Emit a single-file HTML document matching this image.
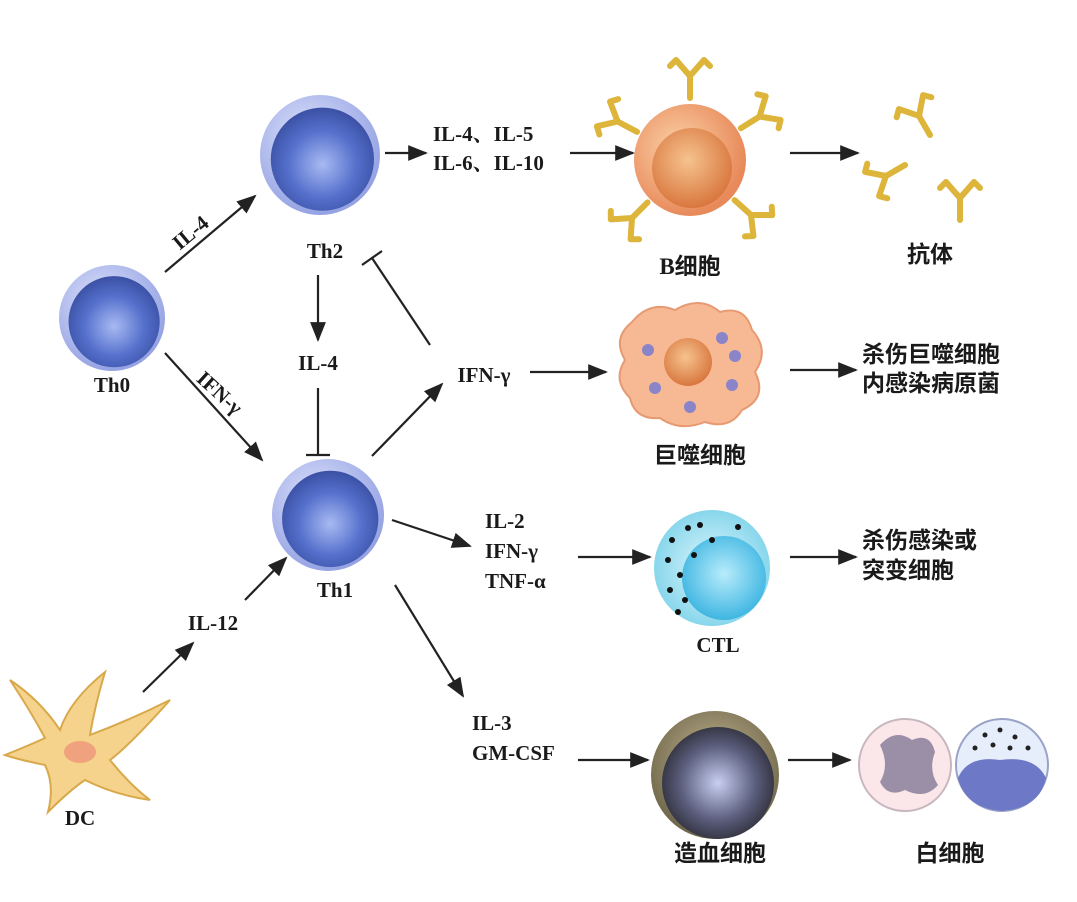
<!DOCTYPE html>
<html><head><meta charset="utf-8"><style>
html,body{margin:0;padding:0;background:#fff;}
svg{display:block;}
text{font-family:"Liberation Serif","Noto Serif CJK SC",serif;font-weight:bold;fill:#1a1a1a;}
.cn{font-family:"Liberation Serif","Noto Sans CJK SC",sans-serif;font-weight:bold;}
</style></head><body>
<svg width="1077" height="902" viewBox="0 0 1077 902">
<defs>
<marker id="ah" viewBox="0 0 10 10" refX="9" refY="5" markerWidth="9" markerHeight="9" orient="auto"><path d="M0,1 L10,5 L0,9 z" fill="#222"/></marker>
<radialGradient id="blue" cx="50%" cy="55%" r="55%"><stop offset="0" stop-color="#a8baf2"/><stop offset="0.6" stop-color="#5570cc"/><stop offset="1" stop-color="#3a50a4"/></radialGradient>
<radialGradient id="blueOut" cx="40%" cy="35%" r="65%"><stop offset="0" stop-color="#dde2fb"/><stop offset="1" stop-color="#95a3e3"/></radialGradient>
<radialGradient id="orange" cx="40%" cy="40%" r="60%"><stop offset="0" stop-color="#fbd3a8"/><stop offset="1" stop-color="#e8895a"/></radialGradient>
<radialGradient id="orangeN" cx="45%" cy="40%" r="60%"><stop offset="0" stop-color="#f6c38e"/><stop offset="1" stop-color="#d9773f"/></radialGradient>
<radialGradient id="cyan" cx="50%" cy="50%" r="55%"><stop offset="0" stop-color="#e2f8fd"/><stop offset="1" stop-color="#7fd3ea"/></radialGradient>
<radialGradient id="cyanN" cx="50%" cy="45%" r="55%"><stop offset="0" stop-color="#b8ecfb"/><stop offset="1" stop-color="#3fb6e2"/></radialGradient>
<radialGradient id="dark" cx="50%" cy="50%" r="55%"><stop offset="0" stop-color="#c8cff0"/><stop offset="0.6" stop-color="#5c5f7e"/><stop offset="1" stop-color="#2c2c36"/></radialGradient>
<radialGradient id="darkOut" cx="50%" cy="40%" r="60%"><stop offset="0" stop-color="#c2b893"/><stop offset="1" stop-color="#6e6448"/></radialGradient>
<g id="tcell"><circle r="1" fill="url(#blueOut)"/><circle cx="0.04" cy="0.07" r="0.86" fill="url(#blue)"/></g>
<g id="ab"><path d="M0,0 L0,-22 M0,-22 L-14,-38 M0,-22 L14,-38 M-14,-38 L-20,-32 M14,-38 L20,-32" stroke="#dcb53a" stroke-width="6" fill="none" stroke-linecap="round"/></g>
</defs>

<g><use href="#tcell" transform="translate(320,155) scale(60)"/></g>
<g><use href="#tcell" transform="translate(112,318) scale(53)"/></g>
<g><use href="#tcell" transform="translate(328,515) scale(56)"/></g>

<g>
<use href="#ab" transform="translate(690,160) rotate(0) translate(0,-62)"/>
<use href="#ab" transform="translate(690,160) rotate(-62) translate(0,-60)"/>
<use href="#ab" transform="translate(690,160) rotate(58) translate(0,-60)"/>
<use href="#ab" transform="translate(690,160) rotate(-135) translate(0,-60)"/>
<use href="#ab" transform="translate(690,160) rotate(132) translate(0,-60)"/>
<circle cx="690" cy="160" r="56" fill="url(#orange)"/>
<circle cx="692" cy="168" r="40" fill="url(#orangeN)"/>
</g>
<g>
<use href="#ab" transform="translate(930,135) rotate(-30)"/>
<use href="#ab" transform="translate(905,165) rotate(-120)"/>
<use href="#ab" transform="translate(960,220) rotate(0)"/>
</g>

<g>
<path d="M632,322 Q650,300 675,310 Q700,295 720,312 Q745,305 752,330 Q770,350 755,372 Q768,398 742,410 Q730,430 705,422 Q680,432 660,418 Q635,420 630,398 Q612,380 625,360 Q612,338 632,322 z" fill="#f7b994" stroke="#e79a72" stroke-width="2"/>
<circle cx="688" cy="362" r="24" fill="url(#orangeN)"/>
<circle cx="648" cy="350" r="6" fill="#8a84c8"/><circle cx="722" cy="338" r="6" fill="#8a84c8"/>
<circle cx="735" cy="356" r="6" fill="#8a84c8"/><circle cx="732" cy="385" r="6" fill="#8a84c8"/>
<circle cx="655" cy="388" r="6" fill="#8a84c8"/><circle cx="690" cy="407" r="6" fill="#8a84c8"/>
</g>

<g>
<circle cx="712" cy="568" r="58" fill="url(#cyan)"/>
<circle cx="724" cy="578" r="42" fill="url(#cyanN)"/>
<g fill="#111">
<circle cx="672" cy="540" r="3"/><circle cx="688" cy="528" r="3"/><circle cx="668" cy="560" r="3"/><circle cx="680" cy="575" r="3"/>
<circle cx="670" cy="590" r="3"/><circle cx="685" cy="600" r="3"/><circle cx="700" cy="525" r="3"/><circle cx="712" cy="540" r="3"/>
<circle cx="738" cy="527" r="3"/><circle cx="678" cy="612" r="3"/><circle cx="694" cy="555" r="3"/>
</g>
</g>

<g>
<circle cx="715" cy="775" r="64" fill="url(#darkOut)"/>
<circle cx="718" cy="783" r="56" fill="url(#dark)"/>
</g>

<g>
<circle cx="905" cy="765" r="46" fill="#fbe6ea" stroke="#c9b7bf" stroke-width="2"/>
<path d="M880,745 Q895,728 912,740 Q930,732 935,752 Q928,770 938,785 Q925,800 905,790 Q888,798 880,782 Q890,765 880,745 z" fill="#9a8fa6"/>
</g>
<g>
<circle cx="1002" cy="765" r="46" fill="#e6edfb" stroke="#9aa3c7" stroke-width="2"/>
<path d="M958,778 Q968,755 1000,760 Q1035,755 1046,778 Q1040,808 1002,811 Q965,808 958,778 z" fill="#6d78c7"/>
<g fill="#222"><circle cx="985" cy="735" r="2.5"/><circle cx="1000" cy="730" r="2.5"/><circle cx="1015" cy="737" r="2.5"/><circle cx="1028" cy="748" r="2.5"/><circle cx="975" cy="748" r="2.5"/><circle cx="993" cy="745" r="2.5"/><circle cx="1010" cy="748" r="2.5"/></g>
</g>

<g>
<path d="M10,680 Q40,700 60,730 Q70,700 105,672 Q95,705 90,735 Q130,720 170,700 Q130,745 110,760 Q130,785 150,800 Q115,795 85,780 Q70,790 48,812 Q55,785 45,765 Q20,760 5,755 Q30,745 45,738 Q30,710 10,680 z" fill="#f5d38d" stroke="#d8a94a" stroke-width="2"/>
<ellipse cx="80" cy="752" rx="16" ry="11" fill="#f0a27e"/>
</g>

<g stroke="#222" stroke-width="2.2" fill="none">
<line x1="165" y1="272" x2="255" y2="196" marker-end="url(#ah)"/>
<line x1="165" y1="353" x2="262" y2="460" marker-end="url(#ah)"/>
<line x1="318" y1="275" x2="318" y2="340" marker-end="url(#ah)"/>
<line x1="318" y1="388" x2="318" y2="455"/><line x1="306" y1="455" x2="330" y2="455"/>
<line x1="430" y1="345" x2="372" y2="258"/><line x1="362" y1="265" x2="382" y2="251"/>
<line x1="372" y1="456" x2="442" y2="384" marker-end="url(#ah)"/>
<line x1="530" y1="372" x2="606" y2="372" marker-end="url(#ah)"/>
<line x1="392" y1="520" x2="470" y2="546" marker-end="url(#ah)"/>
<line x1="578" y1="557" x2="650" y2="557" marker-end="url(#ah)"/>
<line x1="395" y1="585" x2="463" y2="696" marker-end="url(#ah)"/>
<line x1="578" y1="760" x2="648" y2="760" marker-end="url(#ah)"/>
<line x1="143" y1="692" x2="193" y2="643" marker-end="url(#ah)"/>
<line x1="245" y1="600" x2="286" y2="558" marker-end="url(#ah)"/>
<line x1="385" y1="153" x2="426" y2="153" marker-end="url(#ah)"/>
<line x1="570" y1="153" x2="633" y2="153" marker-end="url(#ah)"/>
<line x1="790" y1="153" x2="858" y2="153" marker-end="url(#ah)"/>
<line x1="790" y1="370" x2="856" y2="370" marker-end="url(#ah)"/>
<line x1="790" y1="557" x2="856" y2="557" marker-end="url(#ah)"/>
<line x1="788" y1="760" x2="850" y2="760" marker-end="url(#ah)"/>
</g>

<g font-size="21">
<text x="325" y="258" text-anchor="middle">Th2</text>
<text x="112" y="392" text-anchor="middle">Th0</text>
<text x="335" y="597" text-anchor="middle">Th1</text>
<text x="80" y="825" text-anchor="middle">DC</text>
<text transform="translate(195,238) rotate(-40)" text-anchor="middle">IL-4</text>
<text transform="translate(215,398) rotate(42)" text-anchor="middle">IFN-γ</text>
<text x="318" y="370" text-anchor="middle">IL-4</text>
<text x="484" y="382" text-anchor="middle">IFN-γ</text>
<text x="213" y="630" text-anchor="middle">IL-12</text>
<text x="433" y="141">IL-4、IL-5</text>
<text x="433" y="170">IL-6、IL-10</text>
<text x="485" y="528">IL-2</text>
<text x="485" y="558">IFN-γ</text>
<text x="485" y="588">TNF-α</text>
<text x="718" y="652" text-anchor="middle">CTL</text>
<text x="472" y="730">IL-3</text>
<text x="472" y="760">GM-CSF</text>
</g>
<g font-size="23" class="cn">
<text class="cn" x="690" y="274" text-anchor="middle">B细胞</text>
<text class="cn" x="930" y="262" text-anchor="middle">抗体</text>
<text class="cn" x="700" y="463" text-anchor="middle">巨噬细胞</text>
<text class="cn" x="862" y="362">杀伤巨噬细胞</text>
<text class="cn" x="862" y="391">内感染病原菌</text>
<text class="cn" x="862" y="548">杀伤感染或</text>
<text class="cn" x="862" y="578">突变细胞</text>
<text class="cn" x="720" y="861" text-anchor="middle">造血细胞</text>
<text class="cn" x="950" y="861" text-anchor="middle">白细胞</text>
</g>
</svg>
</body></html>
